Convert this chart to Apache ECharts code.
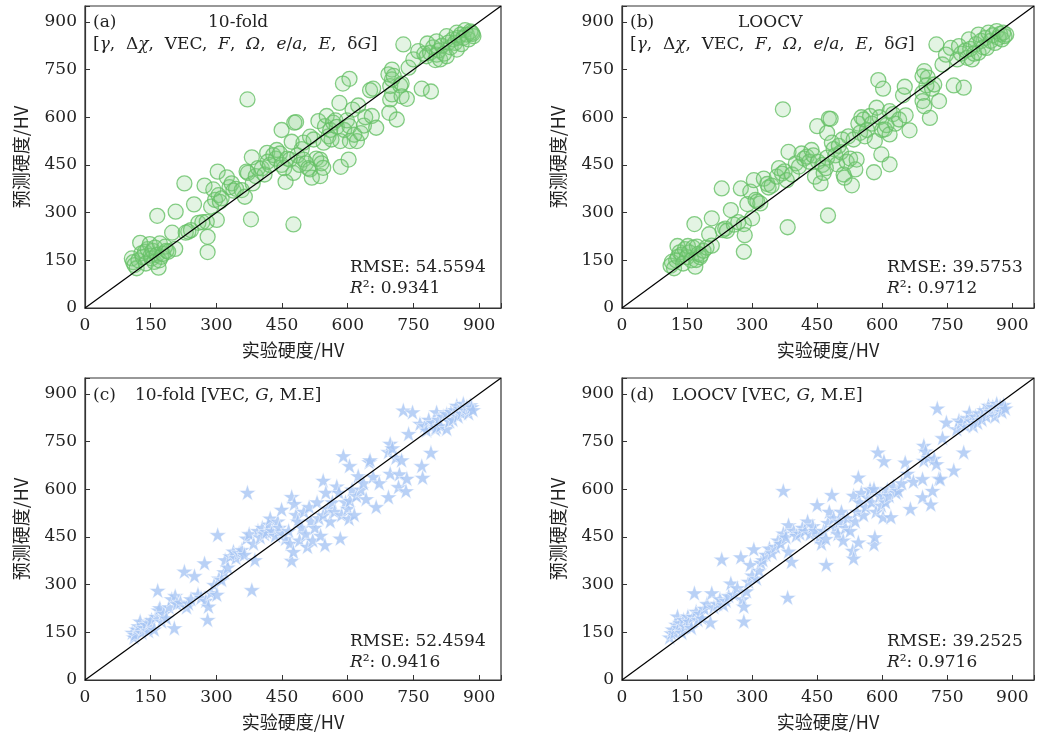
<!DOCTYPE html>
<html><head><meta charset="utf-8">
<script src="https://cdn.jsdelivr.net/npm/echarts@6/dist/echarts.min.js"></script>
<style>html,body{margin:0;padding:0;background:#fff}#c{width:1037px;height:737px}</style>
</head><body><div id="c"></div>
<script>
// ---- tick labels / axis ----
const tickValues = [0,150,300,450,600,750,900];
const axisMax = 950;
const xName = '实验硬度/HV';
const yName = '预测硬度/HV';
const metricsA = ['RMSE: 54.5594','0.9341'];
const metricsB = ['RMSE: 39.5753','0.9712'];
const metricsC = ['RMSE: 52.4594','0.9416'];
const metricsD = ['RMSE: 39.2525','0.9716'];

// ---- (a) 10-fold, 8 features: [experimental, predicted] ----
const dataA = [
[107,156],[110,144],[113,135],[118,125],[122,150],[126,205],[129,172],[132,160],[137,177],[139,140],[143,185],[148,201],[150,165],[152,156],[155,180],[158,145],[160,190],[164,167],[165,290],[168,127],[170,150],[171,203],[174,161],[178,170],[183,193],[186,180],[190,177],[199,237],[206,186],[207,303],
[227,392],[230,237],[236,240],[242,245],[249,326],[259,268],[268,270],[273,385],[278,271],[280,224],[280,176],[288,319],[293,373],[297,340],[301,277],[303,429],[305,355],[308,334],[312,345],
[324,411],[330,380],[335,392],[339,369],[345,375],[358,371],[365,350],[369,429],[371,656],[372,425],[379,279],[381,474],[383,392],[390,415],[395,440],[404,439],[410,420],[416,488],[417,460],[422,450],[430,481],[436,470],[438,497],[445,486],[449,560],[449,450],[455,440],[458,397],
[462,470],[468,467],[472,523],[476,425],[478,583],[476,263],[482,585],[485,480],[490,450],[495,500],[499,520],[499,467],[505,455],[510,440],[514,436],[514,539],[518,410],[522,530],[528,470],[533,588],[537,467],[537,415],[540,455],[544,441],[545,520],[548,572],[552,604],[556,540],[560,560],[563,530],[567,583],[572,590],[575,570],[581,645],[583,525],[584,444],[589,706],[592,560],[598,590],[602,467],[604,572],[604,721],[605,525],[611,624],[615,545],[621,525],[624,637],[630,550],[637,574],[640,600],
[651,685],[655,604],[658,690],[665,567],[693,735],[695,614],[697,656],[697,698],[701,750],[701,719],[701,672],[705,730],[712,593],[720,700],[723,706],[723,666],[727,829],[735,658],[739,756],[750,782],
[761,808],[769,690],[775,800],[780,792],[782,832],[788,803],[790,681],[795,820],[800,780],[803,797],[803,839],[808,810],[811,782],[815,825],[820,800],[826,855],[826,792],[830,835],[835,820],[840,845],[845,834],[849,866],[849,813],[852,850],[858,860],[860,830],[864,850],[868,874],[872,860],[876,845],[880,870],[883,866],[887,855],[885,862]
];

// ---- (b) LOOCV, 8 features ----
const dataB = [
[112,133],[115,145],[120,125],[125,150],[128,195],[129,161],[133,175],[138,168],[141,140],[145,185],[150,160],[152,195],[155,175],[160,150],[164,190],[167,264],[169,130],[171,151],[173,193],[176,170],[180,160],[182,167],[188,180],[195,190],[201,232],[207,196],[207,282],
[230,376],[232,245],[238,250],[242,243],[251,308],[258,262],[268,270],[274,376],[281,264],[283,229],[281,177],[289,327],[296,366],[300,282],[304,402],[308,340],[312,335],[319,329],
[327,407],[335,390],[338,379],[345,385],[357,413],[362,440],[369,423],[371,625],[375,430],[380,402],[382,254],[384,491],[392,420],[401,455],[408,445],[414,486],[420,470],[426,476],[432,460],[437,497],[441,480],[445,413],[450,572],[452,460],[458,392],[462,450],
[465,425],[470,440],[473,473],[473,551],[475,291],[477,596],[481,595],[484,520],[488,500],[492,480],[496,452],[500,510],[505,490],[508,530],[511,420],[513,410],[518,460],[522,540],[526,470],[530,386],[534,530],[538,436],[541,467],[545,580],[549,551],[552,600],[557,593],[560,540],[565,560],[572,604],[576,580],[581,427],[583,525],[587,630],[591,717],[594,600],[598,483],[600,560],[602,690],[606,562],[610,575],[617,619],[617,546],[617,452],[625,610],[630,580],[639,593],
[648,669],[652,696],[654,606],[663,559],[693,729],[693,677],[693,651],[697,745],[697,635],[702,700],[705,725],[710,598],[715,690],[720,703],[725,829],[731,651],[739,766],[747,797],
[758,818],[765,700],[773,782],[777,824],[782,800],[788,693],[792,810],[796,787],[800,845],[803,815],[807,782],[812,800],[816,830],[822,860],[822,803],[828,840],[833,820],[838,850],[841,818],[845,866],[850,840],[855,858],[860,834],[864,871],[868,850],[872,862],[876,845],[879,866],[882,855],[886,860]
];

// ---- (c) 10-fold, [VEC, G, M.E] ----
const dataC = [
[108,150],[112,135],[114,143],[118,160],[122,170],[126,185],[130,150],[135,165],[140,175],[145,155],[148,180],[152,190],[158,160],[162,200],[166,282],[168,220],[171,227],[175,185],[180,210],[186,195],[192,230],[198,255],[204,164],[206,265],[210,240],
[218,245],[227,342],[232,230],[236,242],[242,255],[250,328],[258,270],[265,260],[273,368],[276,250],[280,190],[282,232],[288,275],[295,300],[301,269],[303,457],[306,320],[312,316],[318,340],
[320,378],[326,355],[332,390],[339,405],[345,385],[352,400],[358,410],[364,395],[369,446],[371,590],[375,460],[381,284],[385,430],[388,378],[395,470],[400,450],[405,480],[410,460],[415,467],[420,490],[423,509],[428,470],[435,455],[440,500],[444,480],[449,537],[452,460],[458,445],
[465,470],[468,430],[472,577],[472,376],[476,404],[478,555],[482,520],[486,500],[490,440],[495,480],[500,530],[504,460],[508,420],[512,545],[516,500],[520,440],[525,480],[530,560],[534,510],[538,455],[544,519],[544,628],[548,425],[550,590],[555,540],[560,500],[565,560],[570,530],[575,610],[580,590],[583,446],[586,520],[590,705],[595,560],[600,540],[603,508],[604,674],[605,565],[610,600],[615,520],[620,580],[624,642],[630,600],[636,620],[642,570],
[649,686],[651,692],[658,640],[665,545],[672,620],[693,718],[693,576],[697,744],[697,650],[702,730],[710,700],[716,608],[718,648],[723,692],[727,849],[733,595],[735,634],[739,775],[748,843],
[765,807],[769,674],[771,637],[776,800],[780,786],[785,820],[790,716],[795,810],[800,790],[803,843],[803,796],[808,820],[812,800],[818,830],[826,838],[826,791],[832,815],[836,845],[840,820],[845,850],[849,864],[852,830],[856,855],[860,840],[864,870],[868,850],[872,860],[876,840],[880,865],[883,859],[886,850]
];

// ---- (d) LOOCV, [VEC, G, M.E] ----
const dataD = [
[110,135],[114,148],[117,160],[121,150],[125,175],[128,201],[130,165],[134,180],[138,150],[142,190],[146,170],[152,201],[155,185],[160,165],[164,200],[167,274],[171,216],[175,190],[180,210],[185,195],[190,225],[196,240],[204,182],[207,274],[212,230],
[220,240],[226,255],[230,380],[234,237],[240,250],[246,265],[251,305],[258,270],[266,290],[274,387],[278,255],[281,232],[281,185],[287,280],[292,310],[296,363],[300,330],[304,412],[310,320],[316,345],
[320,370],[325,378],[332,395],[340,415],[346,400],[354,420],[360,440],[366,430],[372,462],[372,596],[378,450],[382,260],[384,488],[384,405],[391,373],[396,470],[402,455],[410,462],[416,480],[422,470],[428,500],[434,460],[440,485],[446,470],[450,551],[455,450],[460,430],
[465,470],[470,445],[471,363],[475,495],[478,530],[484,583],[488,510],[492,480],[498,460],[502,500],[506,530],[510,440],[515,480],[520,510],[526,470],[532,408],[534,581],[534,383],[538,500],[542,530],[545,434],[545,638],[548,560],[552,590],[557,520],[562,545],[567,575],[572,600],[576,560],[581,427],[581,602],[583,450],[586,530],[590,717],[594,580],[598,550],[602,513],[602,581],[604,689],[608,560],[612,600],[616,580],[620,513],[626,610],[632,590],[637,596],[645,620],
[653,685],[658,650],[665,539],[672,625],[693,633],[693,576],[696,738],[696,691],[700,720],[706,700],[712,553],[716,596],[720,697],[725,680],[727,855],[731,634],[734,633],[739,762],[748,811],
[765,660],[772,790],[777,817],[782,811],[788,717],[792,800],[796,825],[801,842],[806,815],[810,800],[815,830],[820,810],[825,840],[830,820],[835,850],[840,830],[845,864],[850,845],[855,860],[860,830],[864,870],[868,850],[872,862],[876,845],[880,866],[884,855]
];

const diag = [[0,0],[axisMax,axisMax]];

const SERIF = 'DejaVu Serif';
const CJK = '"Noto Sans CJK SC", "DejaVu Serif"';
const FS = 17;
const STAR = 'path://M100,0 L77.55,69.1 L4.89,69.1 L63.67,111.8 L41.22,180.9 L100,138.2 L158.78,180.9 L136.33,111.8 L195.11,69.1 L122.45,69.1 Z';

const grids = [
  {left:85, top:6, width:416, height:302},
  {left:622, top:6, width:416, height:302},
  {left:85, top:378, width:416, height:302},
  {left:622, top:378, width:416, height:302}
];

function xAx(i){
  return {type:'value', gridIndex:i, min:0, max:axisMax, interval:150,
    name:xName, nameLocation:'middle', nameGap:33,
    nameTextStyle:{fontFamily:CJK, fontSize:18, color:'#222'},
    axisLine:{show:true, onZero:false, lineStyle:{color:'#333', width:1.2}},
    axisTick:{show:true, inside:true, length:5, lineStyle:{color:'#333', width:1}},
    axisLabel:{margin:9, fontFamily:SERIF, fontSize:FS, color:'#222',
      formatter:v => tickValues.indexOf(v) >= 0 ? String(v) : ''},
    splitLine:{show:false}};
}
function yAx(i){
  return {type:'value', gridIndex:i, min:0, max:axisMax, interval:150,
    name:yName, nameLocation:'middle', nameGap:55,
    nameTextStyle:{fontFamily:CJK, fontSize:18, color:'#222'},
    axisLine:{show:true, onZero:false, lineStyle:{color:'#333', width:1.2}},
    axisTick:{show:true, inside:true, length:5, lineStyle:{color:'#333', width:1}},
    axisLabel:{margin:8, fontFamily:SERIF, fontSize:FS, color:'#222',
      formatter:v => tickValues.indexOf(v) >= 0 ? String(v) : ''},
    splitLine:{show:false}};
}

const circleStyle = {color:'rgba(130,205,130,0.28)', borderColor:'#66c066', borderWidth:1.3};
const starStyle = {color:'#a8c6f4', borderColor:'#ffffff', borderWidth:0.6};

function scatter(i, data, star){
  return {type:'scatter', xAxisIndex:i, yAxisIndex:i, data:data,
    symbol: star ? STAR : 'circle', symbolSize: star ? 17 : 15, symbolKeepAspect:true,
    itemStyle: star ? starStyle : circleStyle, silent:true, z:2};
}
function line(i){
  return {type:'line', xAxisIndex:i, yAxisIndex:i, data:diag, symbol:'none',
    lineStyle:{color:'#000', width:1.2}, silent:true, z:5, animation:false};
}

const rich = {
  n:{fontFamily:SERIF, fontSize:FS, color:'#222'},
  i:{fontFamily:SERIF, fontSize:FS, color:'#222', fontStyle:'italic'}
};
function txt(x, y, text){
  return {type:'text', x:x, y:y, z:10,
    style:{text:text, fontFamily:SERIF, fontSize:FS, fill:'#222', verticalAlign:'middle', rich:rich}};
}
const feat8 = '{n|[}{i|γ}{n|,  Δ}{i|χ}{n|,  VEC,  }{i|F}{n|,  }{i|Ω}{n|,  }{i|e}{n|/}{i|a}{n|,  }{i|E}{n|,  δ}{i|G}{n|]}';
const feat3 = (m) => '{n|' + m + ' [VEC, }{i|G}{n|, M.E]}';
function r2(v){ return '{i|R}{n|²: ' + v + '}'; }

const graphics = [
  txt(93, 23, '{n|(a)}'), txt(208, 23, '{n|10-fold}'), txt(93, 45, feat8),
  txt(350, 268, '{n|' + metricsA[0] + '}'), txt(350, 289, r2(metricsA[1])),
  txt(630, 23, '{n|(b)}'), txt(738, 23, '{n|LOOCV}'), txt(630, 45, feat8),
  txt(887, 268, '{n|' + metricsB[0] + '}'), txt(887, 289, r2(metricsB[1])),
  txt(93, 396, '{n|(c)}'), txt(135, 396, feat3('10-fold')),
  txt(350, 642, '{n|' + metricsC[0] + '}'), txt(350, 663, r2(metricsC[1])),
  txt(630, 396, '{n|(d)}'), txt(672, 396, feat3('LOOCV')),
  txt(887, 642, '{n|' + metricsD[0] + '}'), txt(887, 663, r2(metricsD[1]))
];

const chart = echarts.init(document.getElementById('c'), null, {renderer:'canvas'});
chart.setOption({
  animation:false,
  backgroundColor:'#fff',
  grid: grids.map(g => Object.assign({show:true, borderColor:'#333', borderWidth:1.2, backgroundColor:'transparent'}, g)),
  xAxis:[xAx(0),xAx(1),xAx(2),xAx(3)],
  yAxis:[yAx(0),yAx(1),yAx(2),yAx(3)],
  series:[
    scatter(0,dataA,false), line(0),
    scatter(1,dataB,false), line(1),
    scatter(2,dataC,true), line(2),
    scatter(3,dataD,true), line(3)
  ],
  graphic: graphics
});
</script>
</body></html>
